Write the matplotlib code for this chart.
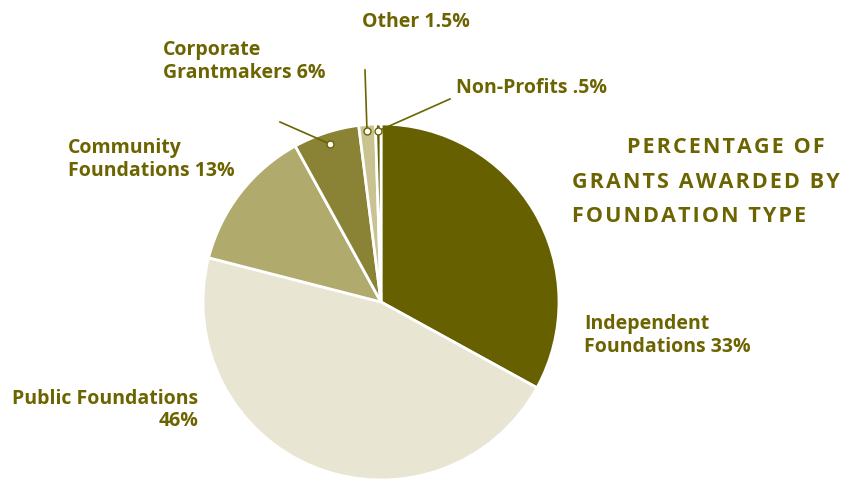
import matplotlib.pyplot as plt

# slice data, clockwise from 12 o'clock
types = ['Independent Foundations', 'Public Foundations', 'Community Foundations',
         'Corporate Grantmakers', 'Other', 'Non-Profits']
shares = [33, 46, 13, 6, 1.5, 0.5]
colors = ['#666000', '#e8e5d2', '#b0aa6c', '#8a8234', '#c8c391', '#666000']

title_lines = ['PERCENTAGE OF', 'GRANTS AWARDED BY', 'FOUNDATION TYPE']

txt_color = '#6b6400'
H = 479


def Y(y):
    # pixel row (from top) -> data y
    return H - y


def spaced(s):
    # widen tracking with hair spaces between the letters
    return '\u200a'.join(s)


fig = plt.figure(figsize=(8.46, 4.79), dpi=100, facecolor='w')
ax = fig.add_axes([0, 0, 1, 1])

ax.pie(shares, colors=colors, startangle=90, counterclock=False,
       center=(381, Y(302)), radius=178,
       wedgeprops=dict(edgecolor='white', linewidth=2))
ax.set_xlim(0, 846)
ax.set_ylim(0, H)
ax.set_aspect('equal')
ax.axis('off')

font = dict(family=['Open Sans', 'DejaVu Sans'], weight='bold', color=txt_color, fontsize=14)

# slice labels
ax.text(584, Y(335), 'Independent\nFoundations 33%', ha='left', va='center', linespacing=1.2, **font)
ax.text(198, Y(410), 'Public Foundations\n46%', ha='right', va='center', linespacing=1.2, multialignment='right', **font)
ax.text(68, Y(159), 'Community\nFoundations 13%', ha='left', va='center', linespacing=1.2, **font)
ax.text(163, Y(61), 'Corporate\nGrantmakers 6%', ha='left', va='center', linespacing=1.2, **font)
ax.text(362, Y(22), 'Other 1.5%', ha='left', va='center', **font)
ax.text(456, Y(88), 'Non-Profits .5%', ha='left', va='center', **font)

# leader lines with small dots
leaders = [((330, 144), (280, 122)), ((367, 131), (365, 70)), ((378, 131), (450, 99))]
for (x0, y0), (x1, y1) in leaders:
    ax.plot([x0, x1], [Y(y0), Y(y1)], color=txt_color, lw=1.2)
    ax.plot(x0, Y(y0), 'o', ms=5, mfc='white', mec=txt_color, mew=1)

# title
tfont = dict(family=['Open Sans', 'DejaVu Sans'], weight='bold', color=txt_color, fontsize=15.5)
ax.text(627, Y(147), spaced(title_lines[0]), ha='left', va='center', **tfont)
ax.text(572, Y(182), spaced(title_lines[1]), ha='left', va='center', **tfont)
ax.text(572, Y(216), spaced(title_lines[2]), ha='left', va='center', **tfont)

fig.savefig('out.png', dpi=100, facecolor='w')
